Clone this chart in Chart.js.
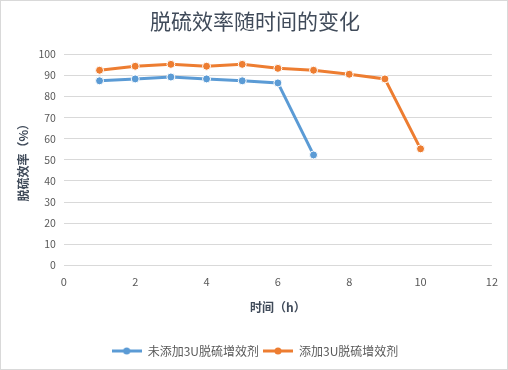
<!DOCTYPE html>
<html>
<head>
<meta charset="utf-8">
<script src="https://cdn.jsdelivr.net/npm/chart.js@4"></script>
<style>
  body { margin: 0; background: #fff; }
  #wrap { width: 508px; height: 370px; }
</style>
</head>
<body>
<div id="wrap"><canvas id="myChart" width="508" height="370"></canvas></div>
<script>
const hoursA = [1, 2, 3, 4, 5, 6, 7];
const ratesA = [87.4, 88.3, 89.2, 88.3, 87.4, 86.4, 52.3];
const hoursB = [1, 2, 3, 4, 5, 6, 7, 8, 9, 10];
const ratesB = [92.4, 94.3, 95.2, 94.3, 95.2, 93.3, 92.4, 90.5, 88.3, 55.2];
const seriesNames = ['未添加3U脱硫增效剂', '添加3U脱硫增效剂'];

const colors = {
    blue: '#5B9BD5',
    orange: '#ED7D31',
    text: '#595959',
    title: '#404B5A',
    grid: '#D9D9D9'
};
const font = '"Noto Sans CJK SC", "Noto Sans", sans-serif';

function toPoints(xs, ys) {
    return xs.map((x, i) => ({ x: x, y: ys[i] }));
}

// little line-with-dot marker for the legend
function legendMark(color) {
    const c = document.createElement('canvas');
    c.width = 30;
    c.height = 10;
    const g = c.getContext('2d');
    g.strokeStyle = color;
    g.lineWidth = 3;
    g.beginPath();
    g.moveTo(0, 5);
    g.lineTo(30, 5);
    g.stroke();
    g.fillStyle = color;
    g.beginPath();
    g.arc(15, 5, 3.5, 0, Math.PI * 2);
    g.fill();
    return c;
}

const frame = {
    id: 'frame',
    beforeDraw(chart) {
        const ctx = chart.ctx;
        ctx.save();
        ctx.fillStyle = '#fff';
        ctx.fillRect(0, 0, chart.width, chart.height);
        ctx.strokeStyle = '#D9D9D9';
        ctx.lineWidth = 1;
        ctx.strokeRect(0.5, 0.5, chart.width - 1, chart.height - 1);
        ctx.restore();
    }
};

function makeSet(label, xs, ys, color) {
    return {
        label: label,
        data: toPoints(xs, ys),
        showLine: true,
        borderColor: color,
        backgroundColor: color,
        borderWidth: 3,
        pointRadius: 4,
        pointBorderColor: '#fff',
        pointBorderWidth: 1,
        tension: 0
    };
}

new Chart(document.getElementById('myChart'), {
    type: 'scatter',
    data: {
        datasets: [
            makeSet(seriesNames[0], hoursA, ratesA, colors.blue),
            makeSet(seriesNames[1], hoursB, ratesB, colors.orange)
        ]
    },
    options: {
        responsive: false,
        animation: false,
        layout: { padding: { left: 16, right: 14, top: 4, bottom: 3 } },
        scales: {
            x: {
                min: 0,
                max: 12,
                ticks: { stepSize: 2, color: colors.text, font: { family: font, size: 11 }, padding: 10 },
                grid: { display: false, drawTicks: false },
                border: { display: false },
                title: {
                    display: true,
                    text: '时间（h）',
                    color: colors.title,
                    font: { family: font, size: 12, weight: 'bold' },
                    padding: { top: 2, bottom: 26 }
                }
            },
            y: {
                min: 0,
                max: 100,
                ticks: { stepSize: 10, color: colors.text, font: { family: font, size: 10.5 }, padding: 8 },
                grid: { color: colors.grid, drawTicks: false },
                border: { display: false },
                title: {
                    display: true,
                    text: '脱硫效率（%）',
                    color: colors.title,
                    font: { family: font, size: 12, weight: 'bold' },
                    padding: { top: 0, bottom: 0 }
                }
            }
        },
        plugins: {
            title: {
                display: true,
                text: '脱硫效率随时间的变化',
                color: colors.title,
                font: { family: font, size: 21, weight: 'normal' },
                padding: { top: 4, bottom: 21 }
            },
            legend: {
                position: 'bottom',
                labels: {
                    color: colors.text,
                    font: { family: font, size: 12 },
                    usePointStyle: true,
                    pointStyleWidth: 30,
                    padding: 4,
                    generateLabels(chart) {
                        return chart.data.datasets.map((ds, i) => ({
                            text: ds.label,
                            fontColor: colors.text,
                            pointStyle: legendMark(ds.borderColor),
                            datasetIndex: i,
                            hidden: false,
                            lineWidth: 0
                        }));
                    }
                }
            },
            tooltip: { enabled: false }
        }
    },
    plugins: [frame]
});
</script>
</body>
</html>
